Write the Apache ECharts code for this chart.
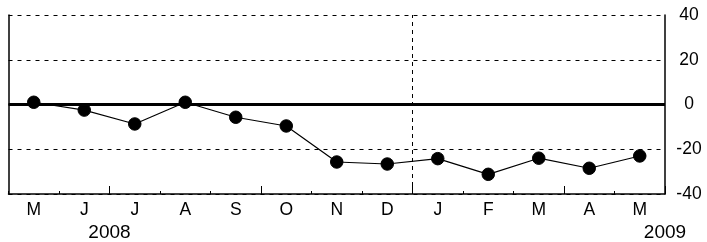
<!DOCTYPE html>
<html><head><meta charset="utf-8">
<script src="https://cdn.jsdelivr.net/npm/echarts@6/dist/echarts.min.js"></script>
<style>html,body{margin:0;padding:0;background:#fff}#c{width:707px;height:242px}</style>
</head><body><div id="c"></div>
<script>
const months = ['M','J','J','A','S','O','N','D','J','F','M','A','M'];
const values = [1, -2.5, -8.7, 1, -5.7, -9.6, -25.7, -26.6, -24.2, -31.2, -24, -28.5, -23];
const yTicks = [-40, -20, 0, 20, 40];
const yearPos = [2, 13];
const yearLabels = ['2008', '2009'];
const yearBoundaryIndex = 8;

const font = 'Liberation Sans, Arial, sans-serif';
const chart = echarts.init(document.getElementById('c'));
chart.setOption({
  animation: false,
  backgroundColor: '#fff',
  grid: {left: 8.5, right: 42, top: 15, bottom: 48},
  xAxis: [
    {type: 'category', data: months, boundaryGap: true, position: 'bottom',
     axisLine: {show: true, onZero: false, lineStyle: {color: '#000', width: 1.5}},
     axisTick: {show: true, inside: true, length: 3, interval: 0, lineStyle: {color: '#000', width: 1}},
     axisLabel: {show: true, interval: 0, color: '#000', fontSize: 17.5, fontFamily: font, margin: 7},
     splitLine: {show: false}},
    {type: 'category', data: months, boundaryGap: true, position: 'bottom',
     axisLine: {show: false, onZero: false},
     axisTick: {show: true, inside: true, length: 8, interval: (i) => i % 3 === 2, lineStyle: {color: '#000', width: 1}},
     axisLabel: {show: false}, splitLine: {show: false}},
    {type: 'value', min: 0, max: 13, interval: 1, position: 'bottom',
     axisLine: {show: false, onZero: false}, axisTick: {show: false}, splitLine: {show: false},
     axisLabel: {show: true, showMaxLabel: true, showMinLabel: true, color: '#000', fontSize: 19, fontFamily: font, margin: 29,
       formatter: (v) => { const k = yearPos.indexOf(Math.round(v)); return k >= 0 ? yearLabels[k] : ''; }}}
  ],
  yAxis: [
    {type: 'value', position: 'right', min: yTicks[0], max: yTicks[yTicks.length-1], interval: 20,
     axisLine: {show: true, onZero: false, lineStyle: {color: '#000', width: 1.5}},
     axisTick: {show: false},
     axisLabel: {color: '#000', fontSize: 17.5, fontFamily: font, margin: 24, align: 'center'},
     splitLine: {show: true, lineStyle: {color: '#000', type: [4, 5], width: 1}}},
    {type: 'value', position: 'left', min: yTicks[0], max: yTicks[yTicks.length-1], interval: 20,
     axisLine: {show: true, onZero: false, lineStyle: {color: '#000', width: 1.5}},
     axisTick: {show: false}, axisLabel: {show: false}, splitLine: {show: false}}
  ],
  series: [{
    type: 'line', data: values, xAxisIndex: 0, yAxisIndex: 0,
    symbol: 'circle', symbolSize: 12.5, showAllSymbol: true,
    lineStyle: {color: '#000', width: 1.2},
    itemStyle: {color: '#000', borderColor: '#000'},
    markLine: {silent: true, symbol: ['none','none'], label: {show: false},
      lineStyle: {color: '#000', type: 'solid', width: 3},
      data: [{yAxis: 0}]},
    z: 5
  }, {
    type: 'line', data: [], xAxisIndex: 2, yAxisIndex: 0,
    markLine: {silent: true, symbol: ['none','none'], label: {show: false},
      lineStyle: {color: '#000', type: [4, 4], width: 1},
      data: [{xAxis: yearBoundaryIndex}]},
    z: 3
  }]
});
</script></body></html>
